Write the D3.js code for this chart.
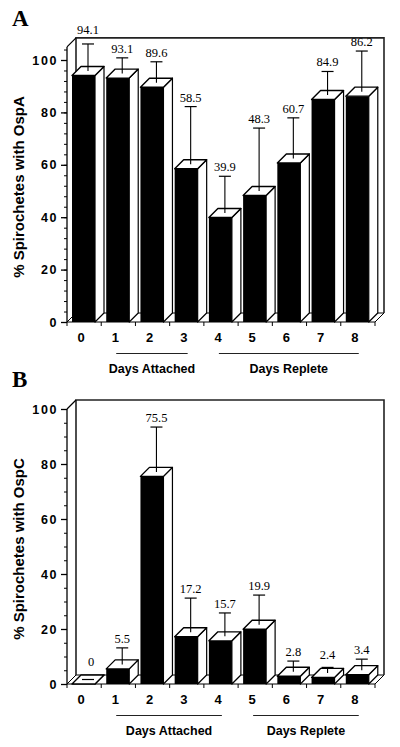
<!DOCTYPE html>
<html>
<head>
<meta charset="utf-8">
<script src="https://cdn.jsdelivr.net/npm/d3@7"></script>
<style>
  html, body { margin: 0; padding: 0; background: #fff; }
  svg { display: block; }
</style>
</head>
<body>
<svg id="chart" width="400" height="747"></svg>
<script>
// ---- data ----
const categories = ["0", "1", "2", "3", "4", "5", "6", "7", "8"];
const valuesA = [94.1, 93.1, 89.6, 58.5, 39.9, 48.3, 60.7, 84.9, 86.2];
const errorsA = [10.3, 6, 8, 22, 14, 24, 15.5, 9, 15.5];
const valuesB = [0, 5.5, 75.5, 17.2, 15.7, 19.9, 2.8, 2.4, 3.4];
const errorsB = [0, 6, 16.3, 12.4, 8.5, 10.8, 3.9, 2, 4];
const yTickLabels = [0, 20, 40, 60, 80, 100];
const groupLabels = ["Days Attached", "Days Replete"];
const groupRangesA = [[1, 3], [4, 8]];
const groupRangesB = [[1, 4], [5, 8]];
const panelLetters = ["A", "B"];
const yTitles = ["% Spirochetes with OspA", "% Spirochetes with OspC"];

// ---- drawing ----
const svg = d3.select("#chart");
const DX = 9, DY = 9;
const sans = "'Liberation Sans', Arial, Helvetica, sans-serif";
const serif = "'Liberation Serif', 'Times New Roman', Times, serif";

function drawPanel(cfg) {
  const g = svg.append("g");
  const y = d3.scaleLinear().domain([0, 100]).range([cfg.base, cfg.top100]);
  const x = d3.scaleBand().domain(categories).range([67, 375]).padding(0);
  const bw = x.bandwidth();
  const left = 67, right = 375;
  const yMax = y(cfg.axisMax);
  const frameTop = yMax - DY;

  // letter
  g.append("text").attr("x", 12).attr("y", cfg.letterY)
    .attr("font-family", serif).attr("font-weight", "bold").attr("font-size", 23)
    .text(cfg.letter);

  // floor
  g.append("path")
    .attr("d", `M${left},${cfg.base}L${right},${cfg.base}L${right + DX},${cfg.base - DY}L${left + DX},${cfg.base - DY}Z`)
    .attr("fill", "#fff").attr("stroke", "#000").attr("stroke-width", 1);

  // back wall frame
  g.append("path")
    .attr("d", `M${left + DX},${cfg.base - DY}L${left + DX},${frameTop}L${right + DX},${frameTop}L${right + DX},${cfg.base - DY}`)
    .attr("fill", "none").attr("stroke", "#222").attr("stroke-width", 1.6);
  g.append("line")
    .attr("x1", left).attr("y1", yMax).attr("x2", left + DX).attr("y2", frameTop)
    .attr("stroke", "#000").attr("stroke-width", 1.3);

  // y axis
  const minor = d3.range(0, cfg.axisMax + 0.001, cfg.minorStep);
  const ax = d3.axisLeft(y).tickValues(minor).tickSize(3).tickFormat("");
  const axG = g.append("g").attr("transform", `translate(${left},0)`).call(ax);
  axG.select(".domain").attr("d", `M0,${cfg.base}V${yMax}`).attr("stroke-width", 1.3);
  axG.selectAll(".tick line").attr("stroke-width", 1);
  const axMaj = d3.axisLeft(y).tickValues(yTickLabels).tickSize(6).tickPadding(3);
  const majG = g.append("g").attr("transform", `translate(${left},0)`).call(axMaj);
  majG.select(".domain").remove();
  majG.selectAll(".tick line").attr("stroke-width", 1.3);
  majG.selectAll(".tick text")
    .attr("font-family", sans).attr("font-weight", "bold").attr("font-size", 12.5)
    .attr("letter-spacing", "1.6px").attr("fill", "#000");

  // y title
  g.append("text")
    .attr("transform", `translate(24,${cfg.base - 135}) rotate(-90)`)
    .attr("text-anchor", "middle")
    .attr("font-family", sans).attr("font-weight", "bold").attr("font-size", 15)
    .text(cfg.title);

  // x ticks at band boundaries
  const bounds = categories.map(c => x(c)).concat([right]);
  g.selectAll(".xt").data(bounds).enter().append("line")
    .attr("x1", d => d).attr("x2", d => d)
    .attr("y1", cfg.base).attr("y2", cfg.base + 4)
    .attr("stroke", "#000").attr("stroke-width", 1);

  // x labels
  g.selectAll(".xl").data(categories).enter().append("text")
    .attr("x", d => x(d) + bw / 2 - 3).attr("y", cfg.base + 20)
    .attr("text-anchor", "middle")
    .attr("font-family", sans).attr("font-weight", "bold").attr("font-size", 13)
    .text(d => d);

  // bars
  const data = categories.map((c, i) => ({ c, v: cfg.values[i], e: cfg.errors[i] }));
  const w = 23;
  data.forEach(d => {
    const x0 = x(d.c) + 5;
    const yt = y(d.v);
    const bg = g.append("g");
    bg.append("path")
      .attr("d", `M${x0 + w},${yt}L${x0 + w + DX},${yt - DY}L${x0 + w + DX},${cfg.base - DY}L${x0 + w},${cfg.base}Z`)
      .attr("fill", "#fff").attr("stroke", "#000").attr("stroke-width", 1.2).attr("stroke-linejoin", "round");
    bg.append("rect")
      .attr("x", x0).attr("y", yt).attr("width", w).attr("height", cfg.base - yt)
      .attr("fill", "#000");
    bg.append("path")
      .attr("d", `M${x0},${yt}L${x0 + DX},${yt - DY}L${x0 + w + DX},${yt - DY}L${x0 + w},${yt}Z`)
      .attr("fill", "#fff").attr("stroke", "#000").attr("stroke-width", 1.4).attr("stroke-linejoin", "round");
  });

  // error bars + labels
  data.forEach(d => {
    const ex = x(d.c) + 5 + w / 2 + DX / 2;
    const ey0 = y(d.v) - DY / 2;
    const ey1 = y(d.v + d.e) - DY / 2;
    g.append("line").attr("x1", ex).attr("x2", ex).attr("y1", ey0).attr("y2", ey1)
      .attr("stroke", "#000").attr("stroke-width", 1.1);
    g.append("line").attr("x1", ex - 6).attr("x2", ex + 6).attr("y1", ey1).attr("y2", ey1)
      .attr("stroke", "#000").attr("stroke-width", 1.2);
    let ly = Math.min(ey1 - 5, ey0 - 14);
    if (ly < frameTop + 8) ly = frameTop - 4;
    g.append("text").attr("x", d.v === 0 ? ex + 3 : ex).attr("y", ly)
      .attr("text-anchor", "middle")
      .attr("font-family", serif).attr("font-size", 12.5)
      .text(d.v);
  });

  // groups
  cfg.groups.forEach((r, i) => {
    const x1 = x(categories[r[0]]) + 15;
    const x2 = x(categories[r[1]]) + 18;
    g.append("line").attr("x1", x1).attr("x2", x2)
      .attr("y1", cfg.base + 31.5).attr("y2", cfg.base + 31.5)
      .attr("stroke", "#222").attr("stroke-width", 1);
    g.append("text").attr("x", (x1 + x2) / 2).attr("y", cfg.base + 50.5)
      .attr("text-anchor", "middle")
      .attr("font-family", sans).attr("font-weight", "bold").attr("font-size", 12.5)
      .text(groupLabels[i]);
  });
}

drawPanel({
  letter: panelLetters[0], letterY: 26, title: yTitles[0],
  base: 322, top100: 60, axisMax: 105, minorStep: 4,
  values: valuesA, errors: errorsA, groups: groupRangesA
});
drawPanel({
  letter: panelLetters[1], letterY: 387, title: yTitles[1],
  base: 684, top100: 409, axisMax: 100, minorStep: 5,
  values: valuesB, errors: errorsB, groups: groupRangesB
});
</script>
</body>
</html>
